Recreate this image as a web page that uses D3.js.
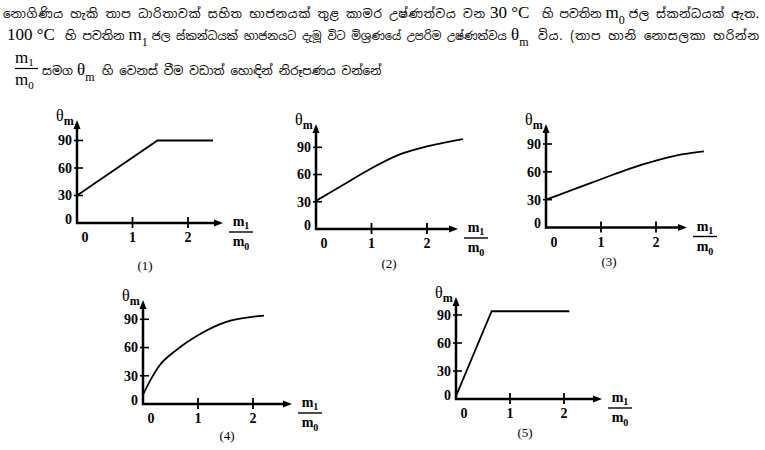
<!DOCTYPE html>
<html><head><meta charset="utf-8">
<script src="https://cdn.jsdelivr.net/npm/d3@7"></script>
<style>body{margin:0;background:#fff} svg{display:block}</style>
</head><body>
<svg id="c" width="765" height="450"></svg>
<script>
// ---- data ----
const xTicks = [0, 1, 2];
const xLabels = ["0", "1", "2"];
const yTicks = [0, 30, 60, 90];
const yLabels = ["0", "30", "60", "90"];
const panelLabels = ["(1)", "(2)", "(3)", "(4)", "(5)"];
const s1x = [0, 1.45, 2.45],                   s1y = [30, 90, 90];
const s2x = [0, 0.5, 1, 1.5, 2, 2.65],         s2y = [31, 49, 67, 82, 91, 99];
const s3x = [0, 0.5, 1, 1.5, 2, 2.5, 2.87],    s3y = [30, 41, 52, 63, 72, 79, 82];
const s4x = [0, 0.15, 0.3, 0.6, 1, 1.5, 2.2],  s4y = [10, 27, 41, 57, 73, 87, 94];
const s5x = [0, 0.66, 2.1],                    s5y = [3, 94, 94];
const headerLine1a = "නොගිණිය හැකි තාප  ධාරිතාවක්  සහිත භාජනයක්  තුළ කාමර උෂ්ණත්වය වන";
const headerLine1b = "හි පවතින";
const headerLine1c = "ජල ස්කන්ධයක් ඇත.";
const headerLine2a = "හි පවතින";
const headerLine2b = "ජල ස්කන්ධයක් භාජනයට දැමූ විට මිශ්‍රණයේ උපරිම උෂ්ණත්වය";
const headerLine2c = "විය. (තාප හානි නොසලකා හරින්න";
const headerLine3a = "සමග";
const headerLine3b = "හි වෙනස් වීම වඩාත් හොඳින් නිරූපණය වන්නේ";

// ---- layout ----
const svg = d3.select("#c");
const serif = "'Liberation Serif','Times New Roman',serif";
const sinh = "'Noto Sans Sinhala','Noto Serif Sinhala','Iskoola Pota','Lohit Sinhala',sans-serif";

const panels = [
  {sx: s1x, sy: s1y, ox: 77,  oy: 223, ux: 55.5, y90: 140.5, top: 120, xend: 223, curve: d3.curveLinear,    lx: 145, ly: 270},
  {sx: s2x, sy: s2y, ox: 316, oy: 229, ux: 55.5, y90: 147.3, top: 124, xend: 458, curve: d3.curveMonotoneX, lx: 389, ly: 268},
  {sx: s3x, sy: s3y, ox: 546, oy: 227.5, ux: 55, y90: 144,   top: 124, xend: 687, curve: d3.curveMonotoneX, lx: 609, ly: 266},
  {sx: s4x, sy: s4y, ox: 143, oy: 404, ux: 55,   y90: 319.3, top: 300, xend: 292, curve: d3.curveMonotoneX, lx: 227, ly: 440},
  {sx: s5x, sy: s5y, ox: 456, oy: 399, ux: 54,   y90: 315,   top: 297, xend: 602, curve: d3.curveLinear,    lx: 525, ly: 437}
];

panels.forEach((p, i) => {
  const g = svg.append("g");
  const x = d3.scaleLinear().domain([0, 1]).range([p.ox, p.ox + p.ux]);
  const y = d3.scaleLinear().domain([0, 90]).range([p.oy, p.y90]);
  g.append("line").attr("x1", p.ox).attr("x2", p.ox).attr("y1", p.oy + 1).attr("y2", p.top + 6)
    .attr("stroke", "#000").attr("stroke-width", 2.5);
  g.append("line").attr("x1", p.ox - 1).attr("x2", p.xend - 6).attr("y1", p.oy).attr("y2", p.oy)
    .attr("stroke", "#000").attr("stroke-width", 2.5);
  g.append("path").attr("d", `M${p.ox},${p.top} L${p.ox - 3.5},${p.top + 9} L${p.ox + 3.5},${p.top + 9}Z`).attr("fill", "#000");
  g.append("path").attr("d", `M${p.xend},${p.oy} L${p.xend - 9},${p.oy - 3.5} L${p.xend - 9},${p.oy + 3.5}Z`).attr("fill", "#000");
  yTicks.forEach((v, k) => {
    if (v > 0) g.append("line").attr("x1", p.ox - 3).attr("x2", p.ox + 6).attr("y1", y(v)).attr("y2", y(v))
      .attr("stroke", "#000").attr("stroke-width", 1.6);
    g.append("text").attr("x", p.ox - 5).attr("y", y(v) - (v === 0 ? 4 : 0)).attr("dy", "0.35em")
      .attr("text-anchor", "end").attr("font-family", serif).attr("font-weight", "bold").attr("font-size", 14)
      .text(yLabels[k]);
  });
  xTicks.forEach((v, k) => {
    if (v > 0) g.append("line").attr("x1", x(v)).attr("x2", x(v)).attr("y1", p.oy - 6).attr("y2", p.oy + 5)
      .attr("stroke", "#000").attr("stroke-width", 1.8);
    g.append("text").attr("x", v === 0 ? p.ox + 8 : x(v)).attr("y", p.oy + 19)
      .attr("text-anchor", "middle").attr("font-family", serif).attr("font-weight", "bold").attr("font-size", 14)
      .text(xLabels[k]);
  });
  const t = g.append("text").attr("x", p.ox - 21).attr("y", p.top + 1)
    .attr("font-family", serif).attr("font-size", 16);
  t.append("tspan").text("θ");
  t.append("tspan").attr("dy", 4).attr("font-size", 12).attr("font-weight", "bold").text("m");
  const fx = p.xend + 18;
  g.append("text").attr("x", fx).attr("y", p.oy + 3).attr("text-anchor", "middle")
    .attr("font-family", serif).attr("font-weight", "bold").attr("font-size", 14)
    .call(s => { s.append("tspan").text("m"); s.append("tspan").attr("dy", 3).attr("font-size", 10).text("1"); });
  g.append("line").attr("x1", fx - 12).attr("x2", fx + 12).attr("y1", p.oy + 9).attr("y2", p.oy + 9)
    .attr("stroke", "#000").attr("stroke-width", 1.4);
  g.append("text").attr("x", fx).attr("y", p.oy + 23).attr("text-anchor", "middle")
    .attr("font-family", serif).attr("font-weight", "bold").attr("font-size", 14)
    .call(s => { s.append("tspan").text("m"); s.append("tspan").attr("dy", 4).attr("font-size", 10).text("0"); });
  const pts = p.sx.map((v, k) => [v, p.sy[k]]);
  g.append("path").datum(pts)
    .attr("d", d3.line().x(d => x(d[0])).y(d => y(d[1])).curve(p.curve))
    .attr("fill", "none").attr("stroke", "#000").attr("stroke-width", 1.8);
  g.append("text").attr("x", p.lx).attr("y", p.ly).attr("text-anchor", "middle")
    .attr("font-family", serif).attr("font-size", 13).text(panelLabels[i]);
});

// ---- header: items placed left to right, never overlapping ----
// each item: [type, text, sub, preferred x, preferred width(for sinhala)]
function runLine(y, items) {
  let cursor = 0;
  items.forEach(it => {
    const x0 = Math.max(it.x, cursor);
    let el;
    if (it.t === "s") {
      el = svg.append("text").attr("x", x0).attr("y", y).attr("font-family", sinh).attr("font-size", 12).text(it.txt);
      if (it.w) {
        const nat = el.node().getComputedTextLength();
        const target = it.end ? it.end - x0 : it.w;
        if (nat > target) el.attr("font-size", Math.max(10.5, 12 * target / nat));
        else el.attr("textLength", target).attr("lengthAdjust", "spacing");
      }
    } else {
      el = svg.append("text").attr("x", x0).attr("y", y).attr("font-family", serif).attr("font-size", 17);
      el.append("tspan").text(it.txt);
      if (it.sub) el.append("tspan").attr("dy", 6).attr("font-size", 12).text(it.sub);
    }
    cursor = x0 + el.node().getComputedTextLength() + 4;
  });
}
runLine(18, [
  {t: "s", txt: headerLine1a, x: 3, w: 482, end: 485},
  {t: "n", txt: "30 °C", x: 490},
  {t: "s", txt: headerLine1b, x: 542},
  {t: "n", txt: "m", sub: "0", x: 600},
  {t: "s", txt: headerLine1c, x: 628, w: 131, end: 759}
]);
runLine(40, [
  {t: "n", txt: "100 °C", x: 7},
  {t: "s", txt: headerLine2a, x: 65},
  {t: "n", txt: "m", sub: "1", x: 115},
  {t: "s", txt: headerLine2b, x: 138, w: 368, end: 507},
  {t: "n", txt: "θ", sub: "m", x: 511},
  {t: "s", txt: headerLine2c, x: 538, w: 221, end: 759}
]);
// line 3 fraction
svg.append("text").attr("x", 15).attr("y", 63).attr("font-family", serif).attr("font-size", 17)
  .call(s => { s.append("tspan").text("m"); s.append("tspan").attr("dy", 3).attr("font-size", 11).text("1"); });
svg.append("line").attr("x1", 15).attr("x2", 38).attr("y1", 68.5).attr("y2", 68.5).attr("stroke", "#000").attr("stroke-width", 1.2);
svg.append("text").attr("x", 15).attr("y", 85).attr("font-family", serif).attr("font-size", 17)
  .call(s => { s.append("tspan").text("m"); s.append("tspan").attr("dy", 4).attr("font-size", 11).text("0"); });
runLine(75, [
  {t: "s", txt: headerLine3a, x: 42},
  {t: "n", txt: "θ", sub: "m", x: 72},
  {t: "s", txt: headerLine3b, x: 102, w: 280, end: 382}
]);
</script>
</body></html>
